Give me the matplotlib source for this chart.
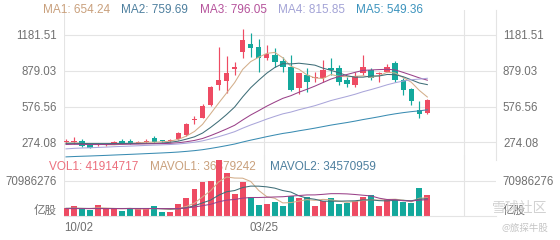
import matplotlib
matplotlib.use('Agg')
import matplotlib.pyplot as plt
import numpy as np

plt.rcParams['font.family'] = ['Liberation Sans', 'Noto Sans CJK SC', 'DejaVu Sans']

# K-line data (one entry per bar)
opens = [278, 282, 288, 252, 254, 250, 261, 288, 289, 270, 282, 308, 290, 285, 300, 337,
         467, 480, 590, 759, 793, 894, 1038, 1105, 1080, 987, 1012, 962, 911, 734, 843, 815,
         818, 903, 903, 801, 759, 860, 886, 855, 869, 945, 801, 725, 548, 522]
closes = [282, 287, 243, 230, 258, 256, 280, 267, 268, 278, 287, 280, 283, 296, 353, 427,
          474, 582, 742, 801, 860, 911, 1139, 1072, 987, 1021, 953, 911, 717, 860, 784, 822,
          886, 886, 784, 768, 835, 911, 818, 860, 911, 801, 717, 624, 514, 632]
highs = [300, 322, 303, 265, 268, 262, 285, 300, 305, 285, 302, 328, 296, 302, 362, 437,
         497, 597, 750, 1080, 1004, 953, 1232, 1198, 1148, 1097, 1072, 996, 1012, 862, 903, 869,
         970, 987, 928, 826, 869, 1012, 903, 869, 936, 962, 818, 734, 624, 640]
lows = [268, 262, 235, 226, 245, 245, 258, 260, 260, 265, 265, 269, 278, 280, 296, 330,
        430, 478, 585, 717, 692, 843, 987, 996, 869, 970, 911, 869, 710, 683, 700, 784,
        784, 843, 759, 742, 742, 843, 801, 784, 865, 784, 675, 590, 480, 518]

# moving averages
ma1 = [268, 270, 265, 262, 260, 254.8, 253.4, 258.2, 265.8, 269.8, 276, 276, 279.2, 284.8,
       299.8, 327.8, 366.6, 426.4, 515.6, 605.2, 691.8, 779.2, 890.6, 956.6, 993.8, 1026,
       1034.4, 988.8, 917.8, 892.4, 845, 818.8, 813.8, 847.6, 832.4, 829.2, 831.8, 836.8,
       823.2, 838.4, 867, 860.2, 821.4, 782.6, 713.4, 657.6]
ma2 = [266, 266, 265, 264, 264, 264, 265, 265, 265, 264.9, 265.4, 264.7, 268.7, 275.3,
       284.8, 301.9, 321.3, 352.8, 400.2, 452.5, 509.8, 572.9, 658.5, 736.1, 799.5, 858.9,
       906.8, 939.7, 937.2, 943.1, 935.5, 926.6, 901.3, 882.7, 862.4, 837.1, 825.3, 825.3,
       835.4, 835.4, 848.1, 846, 829.1, 802.9, 775.9, 762.3]
ma3 = [256.4, 258, 257.4, 256.1, 256.3, 256.3, 257.6, 258.2, 258.8, 260, 261.6, 262.8,
       264.2, 266.3, 271.2, 279.8, 290.7, 307, 331.4, 358.7, 387.6, 418.8, 463.6, 505.7,
       542.2, 580.4, 614.1, 646.3, 668.7, 697.8, 722.7, 749.8, 779.9, 809.4, 831, 848,
       866.1, 882.5, 886.3, 889.3, 891.8, 886.3, 865.2, 842.8, 819.2, 799.7]
ma4 = [219.4, 223.8, 226.6, 228.8, 231.7, 234.4, 237.7, 240.4, 243, 245.8, 248.7, 251.2,
       253.6, 256.3, 260.7, 267.4, 275.5, 287.1, 303.8, 322.3, 342.6, 364.6, 394.1, 421.3,
       445.5, 470.9, 493.8, 515.4, 530.3, 549.9, 566.7, 584.5, 605.9, 627.8, 645.3, 662.4,
       680.9, 702.4, 720.7, 740.1, 760.9, 778.3, 792.7, 803.7, 809.0, 815.85]
ma5 = [151.8, 154.7, 157.1, 159.3, 161.9, 164.5, 167.5, 170.3, 173.1, 176.1, 179.2, 182.2,
       185.3, 188.6, 192.8, 198.3, 204.5, 212.5, 223, 234.5, 247, 260.3, 277.3, 293.2,
       307.6, 322.6, 336.5, 349.7, 359.7, 372, 383, 394.7, 407.5, 420.3, 431.3, 442, 454,
       467.2, 478.8, 491, 504.3, 515.6, 525.6, 534, 540.8, 549.36]

# volume, millions of shares
vol = [15.6, 19.5, 13.5, 12.2, 22.0, 13.5, 15.6, 10.8, 15.6, 14.2, 15.6, 20.0, 7.4, 8.8,
       23.7, 37.2, 54.1, 69.6, 71.0, 113.6, 87.0, 44.0, 68.0, 37.9, 22.3, 23.7, 27.8, 20.9,
       41.2, 37.1, 39.1, 20.9, 30.4, 35.9, 24.3, 27.0, 31.0, 39.1, 42.6, 20.9, 33.9, 33.9,
       29.0, 27.0, 56.2, 41.91]
mavol1 = [15.5, 16, 15.5, 15, 16.6, 16.1, 15.4, 14.8, 15.5, 13.9, 14.4, 15.2, 14.6, 13.2,
          15.1, 19.4, 26.2, 38.7, 51.1, 69.1, 79.1, 77, 76.7, 70.1, 51.8, 39.2, 35.9, 26.5,
          27.2, 30.1, 33.2, 31.8, 33.7, 32.7, 30.1, 27.7, 29.7, 31.5, 32.8, 32.1, 33.5, 34.1,
          32.1, 28.9, 36, 36.9]
mavol2 = [15.5, 15.5, 15.4, 15.3, 15.3, 15.2, 15.2, 15.2, 15.3, 15.25, 15.25, 15.3, 14.7,
          14.35, 14.5, 16.9, 20.7, 26.6, 32.2, 42.1, 49.2, 51.6, 57.7, 60.6, 60.5, 59.1, 56.5,
          51.6, 48.6, 41, 36.2, 33.9, 30.1, 29.9, 30.1, 30.5, 30.8, 32.6, 32.7, 31.1, 30.6,
          31.9, 31.8, 30.9, 34.1, 35.0]
mavol3 = [15, 15, 15, 15, 15, 15, 15, 15, 15, 15, 15.1, 15.1, 15, 15, 15.2, 16.3, 18.2,
          20.9, 23.7, 28.7, 32.2, 33.5, 36.2, 37.5, 37.5, 38, 38.6, 39.1, 40.4, 41.5, 42.7,
          42.8, 43.9, 45.3, 45.3, 44.8, 43.6, 42.1, 40.7, 36.1, 33.4, 32.9, 30.9, 30.4, 32.1, 33]

price_ticks = [274.08, 576.56, 879.03, 1181.51]
vol_tick = 70.986276
dates = ['10/02', '03/25']
date_pos = [-0.25, 24.65]
xgrid = [-0.25, 24.65, 49.55]

ma_names = ['MA1', 'MA2', 'MA3', 'MA4', 'MA5']
ma_last = [654.24, 759.69, 796.05, 815.85, 549.36]
vol_names = ['VOL1', 'MAVOL1', 'MAVOL2']
vol_last = [41914717, 36379242, 34570959]

RED = '#ee4b63'
GREEN = '#13a89c'
GRID = '#e4e4e4'
TXT = '#707070'
ma_line_c = ['#d3ae8a', '#3f6e78', '#9a4189', '#aaa6da', '#3a8cb2']
ma_text_c = ['#c9a07c', '#4d7f9e', '#b5529b', '#a3a3d6', '#3c93bd']
vol_text_c = ['#ec6f7d', '#c9a07c', '#4d7f9e']
mavol_c = ['#d3ae8a', '#3f6e78', '#9a4189']

W, H = 560, 240
fig = plt.figure(figsize=(W / 100, H / 100), dpi=100)


def box(x0, y0, x1, y1):
    return [x0 / W, 1 - y1 / H, (x1 - x0) / W, (y1 - y0) / H]


ax = fig.add_axes(box(64, 10, 496, 160))
axv = fig.add_axes(box(64, 155, 496, 216))
for a in (ax, axv):
    a.set_facecolor('none')
    a.set_xlim(-0.25, 53.55)
    for s in a.spines.values():
        s.set_visible(False)
    for xv in xgrid:
        a.axvline(xv, color=GRID, lw=0.8, zorder=0)

ax.set_ylim(125.4, 1392.7)
axv.set_ylim(0, 123.7)
ax.spines['right'].set_visible(True)
ax.spines['right'].set_color(GRID)
ax.spines['right'].set_linewidth(0.8)
axv.spines['bottom'].set_visible(True)
axv.spines['bottom'].set_color(GRID)
axv.spines['bottom'].set_linewidth(0.8)

for yv in price_ticks:
    ax.axhline(yv, color=GRID, lw=0.8, zorder=0)
axv.axhline(vol_tick, color=GRID, lw=0.8, zorder=0)

# candles
x = np.arange(len(closes))
o = np.array(opens, float)
c = np.array(closes, float)
colors = np.where(c >= o, RED, GREEN)
ax.vlines(x, lows, highs, colors=colors, lw=0.85, zorder=3)
bh = np.maximum(np.abs(c - o), 9)
bb = (o + c) / 2 - bh / 2
ax.bar(x, bh, width=0.68, bottom=bb, color=colors, linewidth=0, zorder=4)

for ser, col in zip([ma1, ma2, ma3, ma4, ma5], ma_line_c):
    ax.plot(x, ser, color=col, lw=0.75, zorder=5)

# volume
axv.bar(x, vol, width=0.74, color=colors, linewidth=0, zorder=2)
for ser, col in zip([mavol1, mavol2, mavol3], mavol_c):
    axv.plot(x, ser, color=col, lw=0.75, zorder=3)

# axis labels
ax.set_xticks([])
ax.set_yticks(price_ticks, labels=[f'{v:.2f}' for v in price_ticks])
ax.tick_params(axis='y', length=0, pad=5, labelsize=8.3, labelcolor=TXT,
               labelleft=True, labelright=True)
axv.set_yticks([vol_tick], labels=[str(int(round(vol_tick * 1e6)))])
axv.tick_params(axis='y', length=0, pad=5, labelsize=8.3, labelcolor=TXT,
                labelleft=True, labelright=True)
axv.set_xticks(date_pos, labels=dates)
axv.tick_params(axis='x', length=0, pad=4.5, labelsize=8.3, labelcolor=TXT)
axv.get_xticklabels()[0].set_ha('left')

for xa, dx, ha in [(0, -7, 'right'), (1, 7, 'left')]:
    axv.annotate('亿股', xy=(xa, 0), xycoords=('axes fraction', 'data'),
                 xytext=(dx, 5), textcoords='offset pixels', ha=ha, va='center',
                 fontsize=8.3, color=TXT, annotation_clip=False)

# legends
for i, (n, v) in enumerate(zip(ma_names, ma_last)):
    fig.text((43 + 78.3 * i) / W, 1 - 10 / H, f'{n}: {v:.2f}', color=ma_text_c[i],
             fontsize=8.5, va='center', ha='left')
vol_x = [49, 150, 270]
for i, (n, v) in enumerate(zip(vol_names, vol_last)):
    axv.text(vol_x[i] / W, 1 - 166.7 / H, f'{n}: {v}', color=vol_text_c[i],
             fontsize=8.5, va='center', ha='left', transform=fig.transFigure,
             zorder=1, clip_on=False)

# watermark
fig.text(492 / W, 1 - 207.5 / H, '雪球社区', fontsize=10, color='#d2d2d2',
         va='center', ha='left', family=['Noto Sans CJK SC'])
fig.text(502 / W, 1 - 228 / H, '@旅探牛股', fontsize=6.8, color='#c4c4c4',
         va='center', ha='left', family=['Noto Sans CJK SC', 'DejaVu Sans'])

fig.savefig('out.png', dpi=100)
